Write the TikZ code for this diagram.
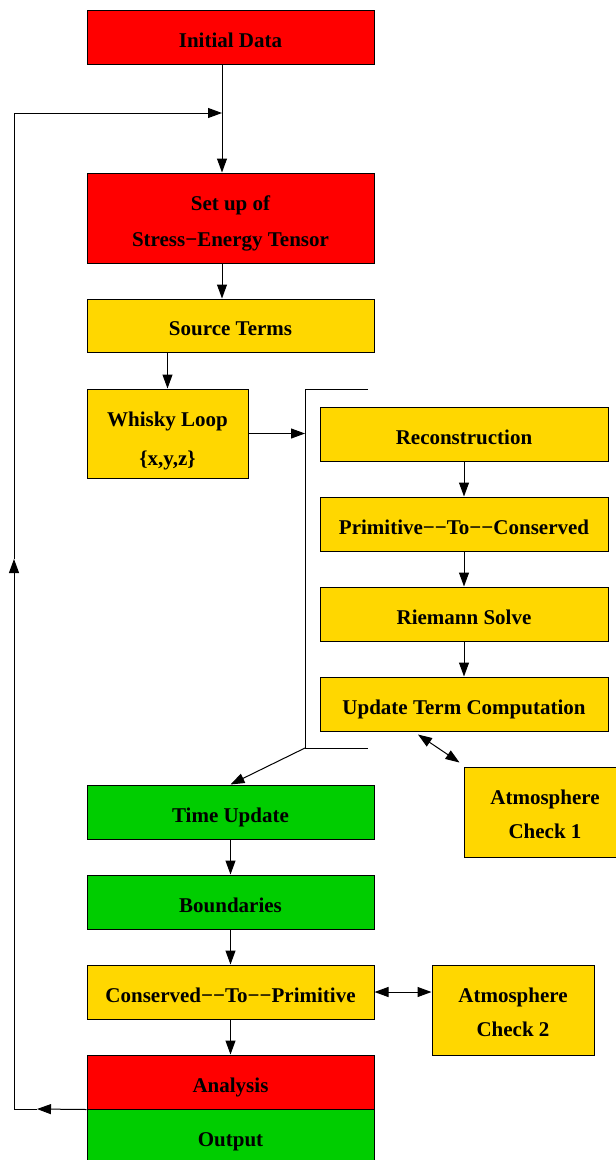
\documentclass[tikz,border=0pt]{standalone}
\usepackage{fontspec}
\setmainfont{Liberation Serif}
\usetikzlibrary{arrows.meta}
\definecolor{boxred}{RGB}{255,0,0}
\definecolor{boxyellow}{RGB}{255,215,0}
\definecolor{boxgreen}{RGB}{0,205,0}
\tikzstyle{mybox} = [draw=black, line width=1pt, rectangle, inner sep=0pt, align=center, font=\fontsize{21}{25}\selectfont\bfseries, execute at begin node={\rule[-4.4pt]{0pt}{29.4pt}}]
\tikzstyle{widebox} = [mybox, minimum width=287pt, minimum height=54pt]
\tikzstyle{loopbox} = [mybox, fill=boxyellow, minimum width=288pt, minimum height=54pt]
\tikzstyle{atmbox} = [mybox, fill=boxyellow, minimum width=162pt, minimum height=90pt]
\tikzstyle{arr} = [-{Triangle[length=14pt,width=10pt]}, line width=1pt]
\tikzstyle{darr} = [{Triangle[length=14pt,width=10pt]}-{Triangle[length=14pt,width=10pt]}, line width=1pt]

\begin{document}
\begin{tikzpicture}[x=1pt,y=-1pt]
\useasboundingbox (0,0) rectangle (616,1160);
\node[widebox, fill=boxred] (init) at (230.5,37.5) {Initial Data};
\node[widebox, fill=boxred, minimum height=90pt] (setup) at (230.5,218) {\rule{0pt}{25pt}Set up of\\[11pt]Stress−Energy Tensor};
\node[widebox, fill=boxyellow, minimum height=53pt] (source) at (230.5,325.5) {Source Terms};
\node[mybox, fill=boxyellow, minimum width=161pt, minimum height=89pt] (whisky) at (167.5,433.5) {\rule{0pt}{29pt}Whisky Loop\\[14pt]\{x,y,z\}};
\node[loopbox] (recon) at (464,434) {Reconstruction};
\node[loopbox] (ptoc) at (464,524) {Primitive−−To−−Conserved};
\node[loopbox] (riemann) at (464,614) {Riemann Solve};
\node[loopbox] (update) at (464,704) {Update Term Computation};
\node[atmbox] (atmone) at (545,812) {\rule{0pt}{23pt}Atmosphere\\[9pt]Check 1};
\node[widebox, fill=boxgreen] (timeup) at (230.5,812) {Time Update};
\node[widebox, fill=boxgreen] (bound) at (230.5,902) {Boundaries};
\node[widebox, fill=boxyellow] (ctop) at (230.5,992) {Conserved−−To−−Primitive};
\node[atmbox] (atmtwo) at (513,1010) {\rule{0pt}{23pt}Atmosphere\\[9pt]Check 2};
\node[widebox, fill=boxred] (analysis) at (230.5,1082) {Analysis};
\node[widebox, fill=boxgreen] (output) at (230.5,1136) {Output};

\coordinate (join) at (222,113);
\coordinate (lefttop) at (14,113);
\coordinate (leftmid) at (14,559);
\coordinate (leftbot) at (14,1109);
\coordinate (leftarr) at (37,1109);
\coordinate (brtop) at (305,389);
\coordinate (brbot) at (305,748);

\draw[line width=1pt] (init.south -| join) -- (join);
\draw[arr] (join) -- (setup.north -| join);
\draw[arr] (setup.south -| join) -- (source.north -| join);
\draw[arr] (source.south -| whisky) -- (whisky.north);
\draw[arr] (whisky.east) -- (whisky.east -| brtop);
\draw[line width=1pt] (368,389) -- (brtop) -- (brbot) -- (368,748);
\draw[arr] (recon) -- (ptoc);
\draw[arr] (ptoc) -- (riemann);
\draw[arr] (riemann) -- (update);
\draw[darr] ([shift={(-46pt,-3pt)}]update.south) -- ([shift={(-4pt,4pt)}]atmone.north west);
\draw[arr] (brbot) -- (timeup.north);
\draw[arr] (timeup) -- (bound);
\draw[arr] (bound) -- (ctop);
\draw[darr] (ctop.east) -- (ctop.east -| atmtwo.west);
\draw[arr] (ctop) -- (analysis);
\draw[arr] (analysis.south west) -- (leftarr);
\draw[arr] (leftarr) -- (leftbot) -- (leftmid);
\draw[line width=1pt] (leftmid) -- (lefttop);
\draw[arr] (lefttop) -- (join);
\end{tikzpicture}
\end{document}
